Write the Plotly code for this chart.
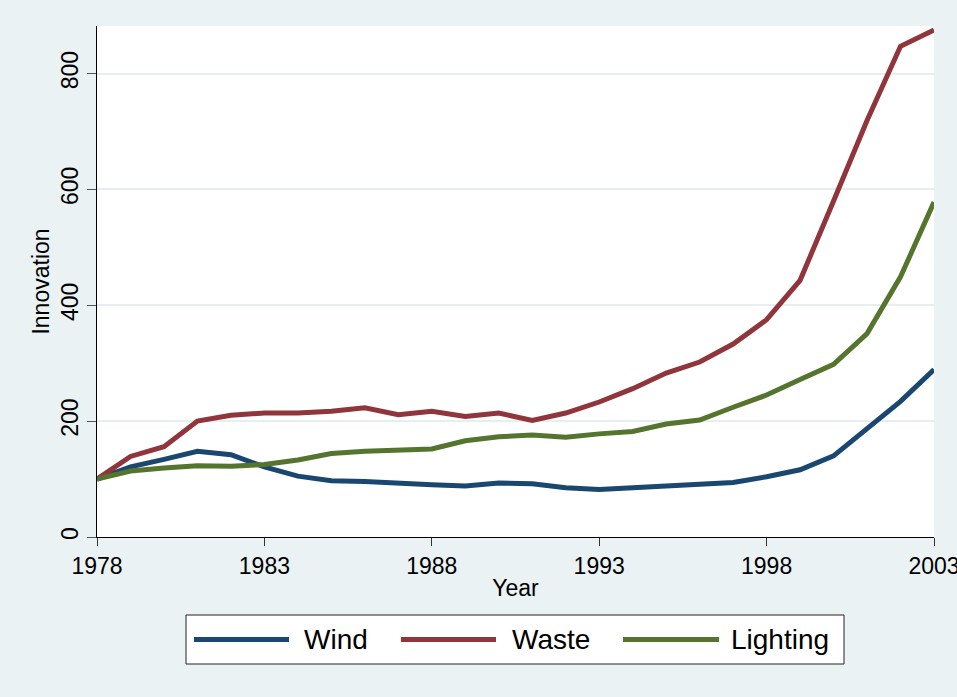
import plotly.graph_objects as go

# ---- data ----
years = list(range(1978, 2004))
wind = [100, 121, 134, 148, 142, 121, 105, 97, 96, 92, 90, 88, 93, 92, 85, 82, 85,
        90, 93, 94, 104, 116, 140, 188, 234, 289]
waste = [100, 139, 156, 200, 210, 214, 214, 217, 223, 211, 217, 208, 214, 201, 214,
         233, 256, 283, 302, 333, 375, 443, 580, 719, 847, 875]
lighting = [100, 114, 119, 123, 122, 125, 133, 144, 148, 151, 152, 166, 173, 176, 172,
            178, 182, 195, 202, 224, 245, 272, 298, 351, 449, 578]
series_names = ["Wind", "Waste", "Lighting"]
x_ticks = [1978, 1983, 1988, 1993, 1998, 2003]
y_ticks = [0, 200, 400, 600, 800]

colors = ["#1A476F", "#90353B", "#55752F"]
BG = "#EAF2F3"
FONT = "Liberation Sans, Arial, sans-serif"

W, H = 957, 697
L, R, T, B = 97, 23, 26, 160
PW, PH = W - L - R, H - T - B


def px_x(px):
    return (px - L) / PW


def px_y(py):
    return (H - B - py) / PH


fig = go.Figure()
for name, vals, c in zip(series_names, [wind, waste, lighting], colors):
    fig.add_trace(go.Scatter(x=years, y=vals, mode="lines", name=name,
                             line=dict(color=c, width=5), cliponaxis=False,
                             showlegend=False))

# custom Stata-style legend
shapes = [dict(type="rect", xref="paper", yref="paper",
               x0=px_x(186), x1=px_x(844), y0=px_y(664), y1=px_y(615),
               line=dict(color="#222222", width=1), fillcolor="white", layer="below")]
annotations = []
line_x = [(194, 289, 302), (401, 496, 510), (623, 719, 729)]
ly = px_y(639.5)
for (x0, x1, tx), name, c in zip(line_x, series_names, colors):
    shapes.append(dict(type="line", xref="paper", yref="paper",
                       x0=px_x(x0), x1=px_x(x1), y0=ly, y1=ly,
                       line=dict(color=c, width=5)))
    annotations.append(dict(xref="paper", yref="paper", x=px_x(tx), y=ly,
                            xanchor="left", yanchor="middle", text=name,
                            showarrow=False, font=dict(size=28, color="black", family=FONT)))

fig.update_layout(
    width=W, height=H,
    margin=dict(l=L, r=R, t=T, b=B, autoexpand=False),
    paper_bgcolor=BG, plot_bgcolor="white",
    font=dict(family=FONT, color="black"),
    shapes=shapes, annotations=annotations,
    showlegend=False,
)
fig.update_xaxes(
    range=[1978, 2003], tickvals=x_ticks, ticktext=[str(v) for v in x_ticks],
    showgrid=False, zeroline=False, showline=True, linecolor="black", linewidth=1,
    ticks="outside", ticklen=8, tickcolor="#333333", tickfont=dict(size=23),
    ticklabeloverflow="allow",
    title=dict(text="Year", font=dict(size=23), standoff=2),
)
fig.update_yaxes(
    range=[0, 882], tickvals=y_ticks, ticktext=[str(v) for v in y_ticks],
    showgrid=True, gridcolor="#E6EEF0", gridwidth=1.5, zeroline=False,
    showline=True, linecolor="black", linewidth=1,
    ticks="outside", ticklen=9, tickcolor="#555555", tickfont=dict(size=23),
    tickangle=-90, ticklabeloverflow="allow",
    title=dict(text="Innovation", font=dict(size=23), standoff=0),
)

fig.write_html("out.html", config={"displayModeBar": False},
               post_script="document.body.style.margin='0';document.body.style.background='%s';" % BG)
